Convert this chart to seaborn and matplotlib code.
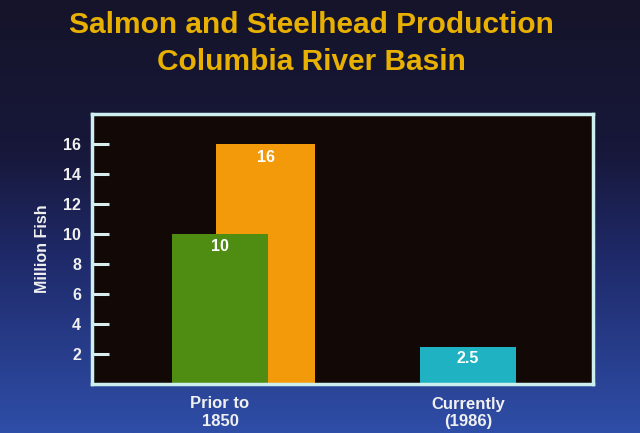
import numpy as np
import matplotlib
matplotlib.use('Agg')
import matplotlib.pyplot as plt
import seaborn as sns
from matplotlib.colors import LinearSegmentedColormap

# data
periods = ['Prior to\n1850', 'Currently\n(1986)']
front_values = [10, 2.5]          # green (low estimate) and cyan (current)
front_colors = ['#4f8c12', '#1fb2c2']
high_period = 'Prior to\n1850'
high_value = 16                   # orange (high estimate)
high_color = '#f39a0a'
yticks = [2, 4, 6, 8, 10, 12, 14, 16]

sns.set_style('dark')
plt.rcParams['font.family'] = ['Liberation Sans', 'DejaVu Sans']

fig = plt.figure(figsize=(6.4, 4.33), dpi=100)

# gradient background
bg = fig.add_axes([0, 0, 1, 1], zorder=-10)
cmap = LinearSegmentedColormap.from_list(
    'bg', [(0, '#15142a'), (0.35, '#17183a'), (0.6, '#1f2a6a'), (1, '#2f4ea8')])
bg.imshow(np.linspace(0, 1, 256)[:, None], aspect='auto', cmap=cmap,
          extent=[0, 1, 0, 1], origin='upper')
bg.set_axis_off()

ax = fig.add_axes([92 / 640, 1 - 384 / 433, (593 - 92) / 640, (384 - 114) / 433])
ax.set_facecolor('#120806')

sns.barplot(x=periods, y=front_values, hue=periods, palette=front_colors,
            width=0.39, legend=False, saturation=1, linewidth=0, ax=ax, zorder=2)
hx = periods.index(high_period) + 0.185
ax.bar(hx, high_value, width=0.4, color=high_color, linewidth=0, zorder=1)

for i, v in enumerate(front_values):
    ax.text(i, v - 0.8, f'{v:g}', ha='center', va='center', color='white',
            fontsize=11.5, fontweight='bold', zorder=3)
ax.text(hx, high_value - 0.9, f'{high_value:g}', ha='center', va='center',
        color='white', fontsize=11.5, fontweight='bold', zorder=3)

ax.set_xlim(-0.516, 1.504)
ax.set_ylim(0, 18)
ax.set_yticks(yticks)
ax.tick_params(axis='y', direction='in', length=12, width=2.2, color='#d8eef0',
               labelcolor='#f0f0f0', labelsize=11.5, pad=8, left=True)
ax.tick_params(axis='x', length=0, labelcolor='#f0f0f0', labelsize=12, pad=9)
for lbl in ax.get_xticklabels() + ax.get_yticklabels():
    lbl.set_fontweight('bold')
ax.grid(False)
for s in ax.spines.values():
    s.set_visible(True)
    s.set_color('#cdeff0')
    s.set_linewidth(2.5)
ax.set_xlabel('')
ax.set_ylabel('Million Fish', color='#f0f0f0', fontsize=11.5, fontweight='bold',
              labelpad=9)

fig.text(311 / 640, 1 - 25 / 433, 'Salmon and Steelhead Production', ha='center',
         va='center', color='#e8b000', fontsize=21.5, fontweight='bold')
fig.text(311 / 640, 1 - 62 / 433, 'Columbia River Basin', ha='center',
         va='center', color='#e8b000', fontsize=21.5, fontweight='bold')

fig.savefig('out.png', dpi=100)
